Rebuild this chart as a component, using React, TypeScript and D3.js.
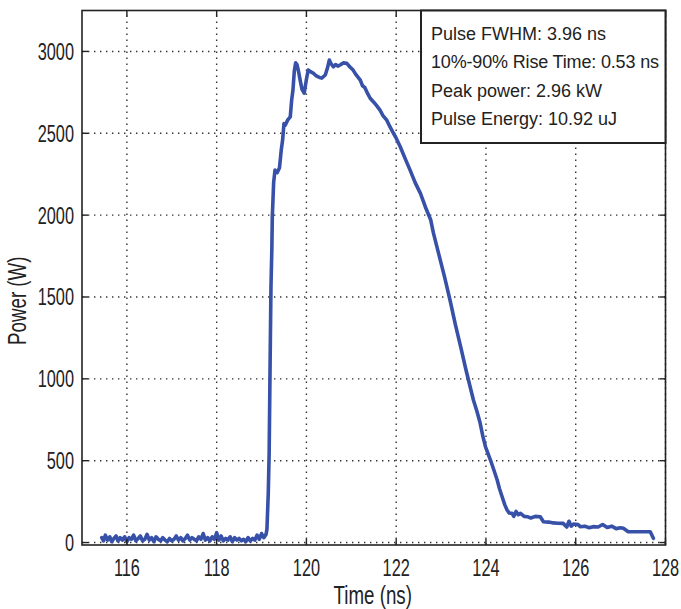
import React from "react";
import * as d3 from "d3";

const timeNs: number[] = [
  115.44, 115.48, 115.52, 115.57, 115.62, 115.66, 115.71, 115.76, 115.8, 115.85, 115.9, 115.95, 116.0, 116.05, 116.1, 116.15, 116.2, 116.25, 116.3, 116.35, 116.4, 116.45, 116.5, 116.55, 116.6, 116.65, 116.7, 116.75, 116.8, 116.85, 116.9, 116.95, 117.0, 117.05, 117.1, 117.15, 117.2, 117.25, 117.3, 117.35, 117.4, 117.45, 117.5, 117.55, 117.6, 117.65, 117.7, 117.75, 117.8, 117.85, 117.9, 117.95, 118.0, 118.05, 118.1, 118.15, 118.2, 118.25, 118.3, 118.35, 118.4, 118.45, 118.5, 118.55, 118.6, 118.65, 118.7, 118.75, 118.8, 118.85, 118.9, 118.95, 119.0, 119.05, 119.1, 119.12,
  119.15, 119.17, 119.19, 119.21, 119.23, 119.24, 119.27, 119.3, 119.35, 119.4, 119.44, 119.47, 119.5, 119.53, 119.58, 119.64, 119.67, 119.7, 119.73, 119.76, 119.79, 119.83, 119.86, 119.9, 119.95, 120.0, 120.04, 120.1, 120.15, 120.22, 120.3, 120.34, 120.42, 120.47, 120.51, 120.55, 120.6, 120.65, 120.7, 120.75, 120.82, 120.9, 120.97, 121.04, 121.1, 121.2, 121.25, 121.3, 121.35, 121.42, 121.5, 121.56, 121.64, 121.7, 121.79, 121.86, 121.94, 122.0, 122.09, 122.2, 122.31, 122.42, 122.54, 122.65, 122.77, 122.83, 122.95, 123.08, 123.2, 123.32, 123.45, 123.55, 123.61, 123.72, 123.8, 123.87, 123.93, 123.99, 124.1, 124.18, 124.25, 124.3, 124.36, 124.42, 124.47, 124.52, 124.58, 124.62, 124.67, 124.72, 124.77, 124.85, 124.92, 125.0, 125.1, 125.21, 125.28, 125.4, 125.5, 125.6, 125.72, 125.8, 125.85, 125.9, 125.95, 126.05, 126.1, 126.2, 126.3, 126.39, 126.5, 126.6, 126.7, 126.8, 126.9, 127.0, 127.06, 127.17, 127.4, 127.66, 127.73,
];

const powerW: number[] = [
  30, 10, 45, 15, 35, 5, 25, 40, 10, 30, 15, 35, 5, 30, 20, 45, 10, 25, 40, 10, 20, 50, 15, 30, 5, 35, 20, 10, 30, 15, 5, 25, 10, 20, 40, 15, 30, 10, 25, 45, 15, 30, 20, 10, 35, 20, 55, 15, 30, 10, 35, 20, 60, 15, 40, 10, 25, 15, 35, 5, 30, 15, 25, 10, 20, 5, 30, 10, 25, 15, 45, 20, 55, 30, 50, 80,
  300, 550, 1070, 1560, 1800, 1990, 2200, 2275, 2260, 2290, 2400, 2460, 2560, 2550, 2580, 2600, 2700, 2764, 2880, 2930, 2920, 2870, 2825, 2770, 2745, 2830, 2886, 2875, 2868, 2850, 2840, 2837, 2856, 2900, 2947, 2925, 2906, 2920, 2910, 2917, 2930, 2927, 2905, 2886, 2860, 2825, 2790, 2780, 2750, 2714, 2690, 2670, 2641, 2610, 2580, 2540, 2500, 2470, 2418, 2345, 2275, 2200, 2133, 2050, 1970, 1890, 1760, 1620, 1480, 1330, 1180, 1060, 993, 871, 800, 730, 650, 585, 504, 440, 382, 330, 280, 230, 199, 180, 178, 160, 190, 170, 178, 160, 158, 150, 160, 158, 127, 125, 120, 118, 117, 95, 130, 100, 113, 110, 97, 100, 90, 97, 95, 110, 92, 100, 85, 90, 87, 66, 66, 66, 26,
];

const xTicks: number[] = [116, 118, 120, 122, 124, 126, 128];
const yTicks: number[] = [0, 500, 1000, 1500, 2000, 2500, 3000];
const legendLines: string[] = [
  "Pulse FWHM: 3.96 ns",
  "10%-90% Rise Time: 0.53 ns",
  "Peak power: 2.96 kW",
  "Pulse Energy: 10.92 uJ",
];

const W = 681;
const H = 609;
const left = 82;
const right = 665.5;
const top = 10.5;
const bottom = 545;

export default function App() {
  const x = d3.scaleLinear().domain([115, 128]).range([left, right]);
  const y = d3.scaleLinear().domain([-15, 3250]).range([bottom, top]);
  const pts: [number, number][] = timeNs.map((t, i) => [t, powerW[i]]);
  const line = d3
    .line<[number, number]>()
    .x((d) => x(d[0]))
    .y((d) => y(d[1]));
  const font = "'Liberation Sans', Arial, Helvetica, sans-serif";
  const tickLen = 6;

  return (
    <svg
      width={W}
      height={H}
      style={{ position: "absolute", left: 0, top: 0, background: "#fff" }}
      fontFamily={font}
    >
      <rect x={0} y={0} width={W} height={H} fill="#fff" />
      <g stroke="#333" strokeWidth={1.4} strokeDasharray="1.4,4.6">
        {xTicks.map((t) => (
          <line key={"gx" + t} x1={x(t)} x2={x(t)} y1={bottom} y2={top} />
        ))}
        {yTicks.map((v) => (
          <line key={"gy" + v} x1={left} x2={right} y1={y(v)} y2={y(v)} />
        ))}
      </g>
      <path
        d={line(pts) || ""}
        fill="none"
        stroke="#3750a8"
        strokeWidth={3.6}
        strokeLinejoin="round"
        strokeLinecap="round"
      />
      <rect
        x={left}
        y={top}
        width={right - left}
        height={bottom - top}
        fill="none"
        stroke="#222"
        strokeWidth={1.6}
      />
      <g stroke="#222" strokeWidth={1.4}>
        {xTicks.map((t) => (
          <g key={"tx" + t}>
            <line x1={x(t)} x2={x(t)} y1={bottom} y2={bottom - tickLen} />
            <line x1={x(t)} x2={x(t)} y1={top} y2={top + tickLen} />
          </g>
        ))}
        {yTicks.map((v) => (
          <g key={"ty" + v}>
            <line x1={left} x2={left + tickLen} y1={y(v)} y2={y(v)} />
            <line x1={right} x2={right - tickLen} y1={y(v)} y2={y(v)} />
          </g>
        ))}
      </g>
      <g fill="#222" fontSize={24}>
        {yTicks.map((v) => (
          <text
            key={"ly" + v}
            transform={`translate(74,${y(v) + 8.5}) scale(0.68,1)`}
            textAnchor="end"
          >
            {v}
          </text>
        ))}
        {xTicks.map((t) => (
          <text
            key={"lx" + t}
            transform={`translate(${x(t)},${576}) scale(0.68,1)`}
            textAnchor="middle"
          >
            {t}
          </text>
        ))}
      </g>
      <text
        transform={`translate(${(left + right) / 2 - 1},604) scale(0.72,1)`}
        textAnchor="middle"
        fontSize={26}
        fill="#222"
      >
        Time (ns)
      </text>
      <text
        transform={`translate(26,${(top + bottom) / 2 + 23}) rotate(-90) scale(0.72,1)`}
        textAnchor="middle"
        fontSize={26}
        fill="#222"
      >
        Power (W)
      </text>
      <rect
        x={421}
        y={top}
        width={right - 421}
        height={143 - top}
        fill="#fff"
        stroke="#222"
        strokeWidth={2}
      />
      <g fill="#222" fontSize={18}>
        {legendLines.map((s, i) => (
          <text key={"lg" + i} x={431} y={39.5 + i * 28.5} textLength={i === 1 ? 228 : undefined}>
            {s}
          </text>
        ))}
      </g>
    </svg>
  );
}
